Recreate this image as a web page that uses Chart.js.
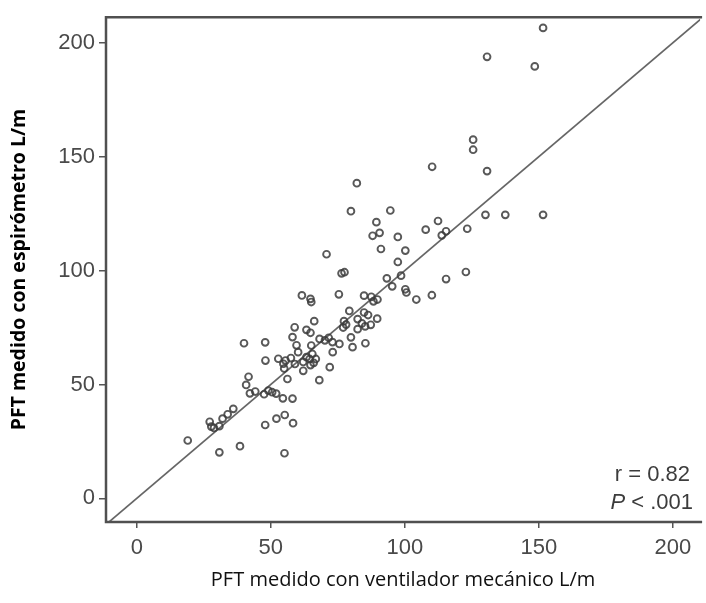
<!DOCTYPE html>
<html><head><meta charset="utf-8">
<script src="https://cdn.jsdelivr.net/npm/chart.js@4"></script>
<style>html,body{margin:0;padding:0;background:#fff}#wrap{width:706px;height:603px}</style>
</head><body><div id="wrap"><canvas id="c" width="706" height="603"></canvas></div>
<script>
// PFT medido con ventilador mecánico (x) vs. espirómetro (y), L/m
const ventilador = [151.6,130.7,148.5,125.5,125.5,110.2,130.7,82.1,79.9,94.6,
  130.1,137.5,151.6,89.4,112.4,107.8,123.3,115.4,113.8,90.6,
  88.0,97.4,91.1,100.2,70.8,97.4,122.8,115.4,110.1,104.3,
  100.2,100.6,98.6,93.3,95.3,77.5,76.4,75.4,61.6,64.8,
  65.1,84.8,87.5,89.8,88.3,84.8,86.3,79.3,89.7,87.3,
  82.4,84.0,85.2,77.3,78.1,77.0,82.4,79.9,75.6,80.5,
  85.3,66.2,58.9,63.3,64.8,58.1,59.6,65.1,68.2,70.2,
  71.6,73.0,73.1,72.0,68.1,60.2,62.1,62.1,63.3,64.5,
  65.5,66.8,66.0,64.8,57.5,59.0,55.5,52.8,54.7,55.0,
  56.2,48.0,40.0,47.9,41.7,40.8,42.2,44.2,47.5,49.1,
  50.5,52.0,54.5,58.1,47.9,52.1,55.2,58.3,55.1,36.0,
  33.9,32.0,27.2,27.8,28.8,30.8,19.0,38.5,30.8];
const espirometro = [206.6,193.9,189.7,157.5,153.1,145.6,143.7,138.4,126.1,126.4,
  124.5,124.5,124.5,121.3,121.8,118.0,118.4,117.3,115.5,116.6,
  115.3,114.8,109.5,108.8,107.2,103.8,99.4,96.3,89.2,87.3,
  91.8,90.4,97.8,96.6,93.1,99.3,98.8,89.6,89.1,87.6,
  86.2,89.0,88.5,87.3,86.5,81.6,80.5,82.3,78.9,76.2,
  78.7,76.8,75.5,77.8,76.3,75.0,74.3,70.7,67.8,66.4,
  68.1,77.8,75.1,74.0,72.7,70.8,67.2,67.1,70.0,69.4,
  70.5,68.6,64.2,57.6,51.9,64.2,59.9,56.0,62.0,61.2,
  63.4,61.2,59.5,58.5,61.6,59.0,60.5,61.3,59.1,57.0,
  52.4,60.5,68.1,68.5,53.4,49.8,46.1,46.9,45.7,47.3,
  46.6,46.0,43.9,43.8,32.2,35.0,36.6,33.0,19.8,39.3,
  36.9,35.0,33.6,31.5,30.9,31.7,25.4,22.9,20.2];
const identityLine = [-12, 213];           // y = x reference line ends
const xTicks = [0, 50, 100, 150, 200];
const yTicks = [0, 50, 100, 150, 200];
const xRange = [-11.5, 210.2];
const yRange = [-10.4, 211.3];
const xTitle = 'PFT medido con ventilador mecánico L/m';
const yTitle = 'PFT medido con espirómetro L/m';
const statR = 'r = 0.82';
const statP = ['P', ' < .001'];

const points = ventilador.map((v, i) => ({x: v, y: espirometro[i]}));
const linePts = identityLine.map(v => ({x: v, y: v}));

const framePlugin = {
  id: 'frame',
  afterDraw(chart) {
    const {ctx, chartArea: a} = chart;
    ctx.save();
    ctx.strokeStyle = '#505050';
    ctx.lineWidth = 2.5;
    ctx.beginPath();
    ctx.moveTo(a.right + 2, a.top);
    ctx.lineTo(a.left, a.top);
    ctx.lineTo(a.left, a.bottom);
    ctx.lineTo(a.right + 2, a.bottom);
    ctx.stroke();
    // statistics text
    ctx.fillStyle = '#3c3c3c';
    ctx.textBaseline = 'middle';
    ctx.textAlign = 'right';
    ctx.font = '22px "Liberation Sans", Arial, sans-serif';
    ctx.fillText(statR, 690, 475);
    const w2 = ctx.measureText(statP[1]).width;
    ctx.fillText(statP[1], 693, 503);
    ctx.font = 'italic 22px "Liberation Sans", Arial, sans-serif';
    ctx.fillText(statP[0], 693 - w2, 503);
    ctx.restore();
  }
};

const tickFont = {family: '"Liberation Sans", Arial, sans-serif', size: 22};

new Chart(document.getElementById('c'), {
  data: {
    datasets: [
      {
        type: 'line',
        data: linePts,
        borderColor: '#666',
        borderWidth: 1.7,
        pointRadius: 0,
        fill: false,
        order: 2
      },
      {
        type: 'scatter',
        data: points,
        pointStyle: 'circle',
        pointRadius: 3.4,
        pointBorderWidth: 1.9,
        pointBackgroundColor: 'rgba(255,255,255,0)',
        pointBorderColor: 'rgba(60,60,60,0.85)',
        order: 1
      }
    ]
  },
  options: {
    responsive: false,
    animation: false,
    layout: {padding: {top: 11, right: 0, left: 0, bottom: 0}},
    plugins: {legend: {display: false}, tooltip: {enabled: false}},
    scales: {
      x: {
        type: 'linear',
        min: xRange[0], max: xRange[1],
        afterBuildTicks: s => { s.ticks = xTicks.map(v => ({value: v})); },
        afterFit: s => { s.height = 81; },
        grid: {drawOnChartArea: false, drawTicks: true, tickLength: 6, color: '#555', lineWidth: 1.5},
        border: {display: false},
        ticks: {font: tickFont, color: '#4a4a4a', padding: 7, autoSkip: false, maxRotation: 0},
        title: {display: true, text: xTitle, color: '#111',
          font: {family: '"Open Sans", sans-serif', size: 20}, padding: {top: 0, bottom: 11}}
      },
      y: {
        type: 'linear',
        min: yRange[0], max: yRange[1],
        afterBuildTicks: s => { s.ticks = yTicks.map(v => ({value: v})); },
        afterFit: s => { s.width = 106; },
        grid: {drawOnChartArea: false, drawTicks: true, tickLength: 7, color: '#555', lineWidth: 1.5},
        border: {display: false},
        ticks: {font: tickFont, color: '#4a4a4a', padding: 4, autoSkip: false},
        title: {display: true, text: yTitle, color: '#000',
          font: {family: '"Open Sans", sans-serif', size: 19.5, weight: 'bold'}, padding: {top: 8, bottom: 0}}
      }
    }
  },
  plugins: [framePlugin]
});
</script>
</body></html>
